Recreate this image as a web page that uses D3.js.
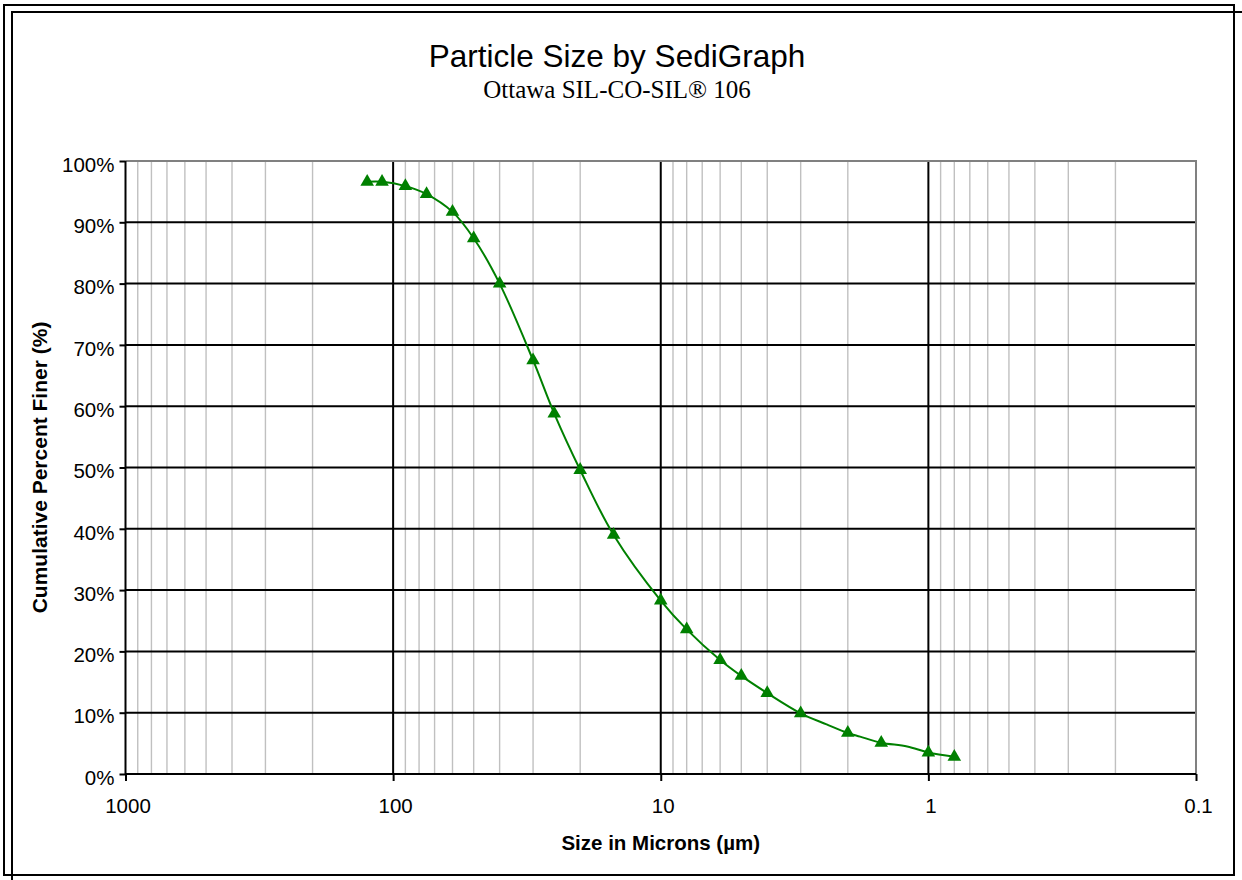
<!DOCTYPE html>
<html>
<head>
<meta charset="utf-8">
<script src="https://cdn.jsdelivr.net/npm/d3@7"></script>
<style>
	body { margin: 0; background: #fff; }
	svg { display: block; }
</style>
</head>
<body>
<div id="chartDIV"></div>
<script>
// particle size (microns) and cumulative percent finer
var sizes = [125, 110, 90, 75, 60, 50, 40, 30, 25, 20, 15, 10, 8, 6, 5, 4, 3, 2, 1.5, 1, 0.8];
var finer = [96.6, 96.6, 95.9, 94.6, 91.7, 87.4, 80.0, 67.5, 58.8, 49.6, 39.0, 28.3, 23.6, 18.6, 16.0, 13.2, 9.9, 6.7, 5.1, 3.5, 2.8];
// extra points the drawn line passes through between markers
var lineSizes = [2.4, 1.8, 1.2];
var lineFiner = [8.1, 6.1, 4.5];

var xTicks = [1000, 100, 10, 1, 0.1];
var yTicks = [0, 0.1, 0.2, 0.3, 0.4, 0.5, 0.6, 0.7, 0.8, 0.9, 1.0];

var titleText = "Particle Size by SediGraph",
	subTitleText = "Ottawa SIL-CO-SIL\u00AE 106",
	xTitleText = "Size in Microns (\u00B5m)",
	yTitleText = "Cumulative Percent Finer (%)";

function showChart() {
	var svgWidth = 1242,
	svgHeight = 880,
	left = 125.5,
	right = 1196,
	top = 161,
	bottom = 774,
	green = "#008000",
	font = "'Liberation Sans', Arial, sans-serif";

	var svg = d3.select("#chartDIV").append("svg")
	.attr("width", svgWidth)
	.attr("height", svgHeight);

	// the two frames round the chart
	svg.append("rect")
	.attr("x", 4).attr("y", 5)
	.attr("width", 1230).attr("height", 870)
	.attr("fill", "none").attr("stroke", "#000").attr("stroke-width", 2);
	svg.append("rect")
	.attr("x", 12).attr("y", 12)
	.attr("width", 1240).attr("height", 880)
	.attr("fill", "none").attr("stroke", "#000").attr("stroke-width", 2);

	var x = d3.scaleLog().domain([1000, 0.1]).range([left, right]);
	var y = d3.scaleLinear().domain([0, 1]).range([bottom, top]);

	// minor grid values 2..9 in every decade
	var minor = [];
	[100, 10, 1, 0.1].forEach(function (d) {
		for (var k = 2; k <= 9; k++) minor.push(d * k);
	});

	var grid = svg.append("g");
	grid.selectAll("line.minor")
	.data(minor)
	.enter().append("line")
	.attr("class", "minor")
	.attr("x1", function (d) { return x(d); })
	.attr("x2", function (d) { return x(d); })
	.attr("y1", top).attr("y2", bottom)
	.attr("stroke", "#c0c0c0").attr("stroke-width", 1.4);

	grid.selectAll("line.hmajor")
	.data(yTicks.slice(1, -1))
	.enter().append("line")
	.attr("class", "hmajor")
	.attr("x1", left).attr("x2", right)
	.attr("y1", function (d) { return y(d); })
	.attr("y2", function (d) { return y(d); })
	.attr("stroke", "#000").attr("stroke-width", 2);

	grid.selectAll("line.vmajor")
	.data([100, 10, 1])
	.enter().append("line")
	.attr("class", "vmajor")
	.attr("x1", function (d) { return x(d); })
	.attr("x2", function (d) { return x(d); })
	.attr("y1", top).attr("y2", bottom)
	.attr("stroke", "#000").attr("stroke-width", 2);

	// plot frame: gray top and right edge
	grid.append("path")
	.attr("d", "M" + left + "," + top + "H" + right + "V" + bottom)
	.attr("fill", "none").attr("stroke", "#808080").attr("stroke-width", 2);

	var yAxis = d3.axisLeft(y)
	.tickValues(yTicks)
	.tickFormat(d3.format(".0%"))
	.tickSize(6)
	.tickPadding(5);
	var gy = svg.append("g")
	.attr("transform", "translate(" + left + ",0)")
	.call(yAxis);

	var xAxis = d3.axisBottom(x)
	.tickValues(xTicks)
	.tickFormat(function (d) { return d < 1 ? d3.format(".1f")(d) : d3.format("d")(d); })
	.tickSize(7)
	.tickPadding(17);
	var gx = svg.append("g")
	.attr("transform", "translate(0," + bottom + ")")
	.call(xAxis);

	[gx, gy].forEach(function (g) {
		g.select(".domain").attr("stroke", "#000").attr("stroke-width", 2);
		g.selectAll(".tick line").attr("stroke", "#000").attr("stroke-width", 2);
		g.selectAll(".tick text")
		.attr("fill", "#000")
		.style("font-family", font)
		.style("font-size", "20.5px");
	});
	gy.select(".domain").attr("d", "M0," + top + "V" + bottom);
	gx.select(".domain").attr("d", "M" + left + ",0H" + right);
	gy.selectAll(".tick text").attr("dy", "0.5em");
	gx.selectAll(".tick text").attr("dx", 2);

	// line data = markers plus the extra bends, sorted by size
	var lineData = [];
	for (var i = 0; i < sizes.length; i++) lineData.push([sizes[i], finer[i] / 100]);
	for (var j = 0; j < lineSizes.length; j++) lineData.push([lineSizes[j], lineFiner[j] / 100]);
	lineData.sort(function (a, b) { return b[0] - a[0]; });

	var line = d3.line()
	.x(function (d) { return x(d[0]); })
	.y(function (d) { return y(d[1]); })
	.curve(d3.curveCatmullRom.alpha(0.5));

	svg.append("path")
	.datum(lineData)
	.attr("d", line)
	.attr("fill", "none")
	.attr("stroke", green)
	.attr("stroke-width", 2);

	var tri = d3.symbol().type(d3.symbolTriangle).size(80);
	svg.selectAll("path.marker")
	.data(sizes)
	.enter().append("path")
	.attr("class", "marker")
	.attr("d", tri)
	.attr("transform", function (d, i) {
		return "translate(" + x(d) + "," + y(finer[i] / 100) + ")";
	})
	.attr("fill", green);

	// texts
	svg.append("text")
	.attr("x", 617).attr("y", 67)
	.attr("text-anchor", "middle")
	.style("font-family", font).style("font-size", "31.5px")
	.text(titleText);

	svg.append("text")
	.attr("x", 617).attr("y", 98)
	.attr("text-anchor", "middle")
	.style("font-family", "'Liberation Serif', 'Times New Roman', serif").style("font-size", "25px")
	.text(subTitleText);

	svg.append("text")
	.attr("x", (left + right) / 2).attr("y", 850)
	.attr("text-anchor", "middle")
	.style("font-family", font).style("font-size", "20.5px").style("font-weight", "bold")
	.text(xTitleText);

	svg.append("text")
	.attr("transform", "translate(47," + (top + bottom) / 2 + ") rotate(-90)")
	.attr("text-anchor", "middle")
	.style("font-family", font).style("font-size", "21px").style("font-weight", "bold")
	.text(yTitleText);
}

showChart();
</script>
</body>
</html>
